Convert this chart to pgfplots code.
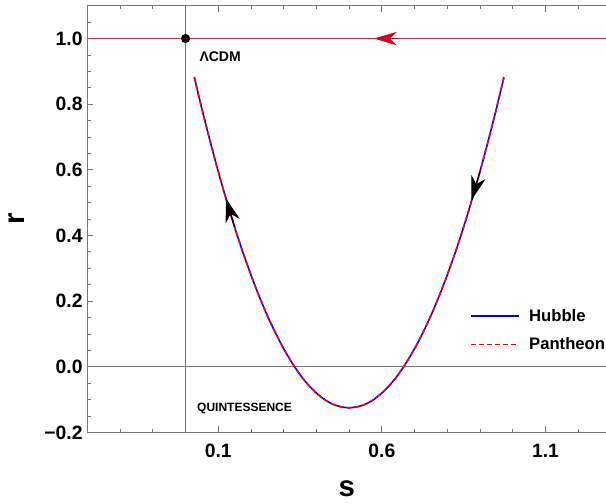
\documentclass[border=0pt]{standalone}
\usepackage{fontspec}
\setmainfont{Liberation Sans}
\usepackage{pgfplots}
\usepackage{pgfplotstable}
\pgfplotsset{compat=1.18}
\usetikzlibrary{arrows.meta}

\definecolor{rline}{RGB}{215,45,75}
\definecolor{rarrow}{RGB}{210,0,40}
\definecolor{framegray}{RGB}{120,120,120}

% statefinder trajectory (both fits coincide)
\pgfplotstableread{
s      rH      rP
0.027  0.882   0.882
0.050  0.786   0.786
0.075  0.688   0.688
0.100  0.595   0.595
0.125  0.508   0.508
0.150  0.426   0.426
0.175  0.350   0.350
0.200  0.280   0.280
0.225  0.215   0.215
0.250  0.156   0.156
0.275  0.103   0.103
0.300  0.055   0.055
0.325  0.013   0.013
0.350  -0.024  -0.024
0.375  -0.055  -0.055
0.400  -0.080  -0.080
0.425  -0.100  -0.100
0.450  -0.114  -0.114
0.475  -0.122  -0.122
0.500  -0.125  -0.125
0.525  -0.122  -0.122
0.550  -0.114  -0.114
0.575  -0.100  -0.100
0.600  -0.080  -0.080
0.625  -0.055  -0.055
0.650  -0.024  -0.024
0.675  0.013   0.013
0.700  0.055   0.055
0.725  0.103   0.103
0.750  0.156   0.156
0.775  0.215   0.215
0.800  0.280   0.280
0.825  0.350   0.350
0.850  0.426   0.426
0.875  0.508   0.508
0.900  0.595   0.595
0.925  0.688   0.688
0.950  0.786   0.786
0.973  0.882   0.882
}\rsdata

\begin{document}
\begin{tikzpicture}
\begin{axis}[
  scale only axis, width=389pt, height=320pt,
  xmin=-0.3, xmax=1.285, ymin=-0.2, ymax=1.1,
  axis y line*=left,
  axis line style={draw=framegray, line width=0.6pt},
  xtick={0.1,0.6,1.1}, xticklabels={0.1,0.6,1.1},
  minor xtick={-0.2,-0.1,0,0.2,0.3,0.4,0.5,0.7,0.8,0.9,1.0,1.2},
  ytick={-0.2,0,0.2,0.4,0.6,0.8,1.0},
  yticklabels={−0.2,0.0,0.2,0.4,0.6,0.8,1.0},
  minor ytick={-0.15,-0.1,-0.05,0.05,0.1,0.15,0.25,0.3,0.35,0.45,0.5,0.55,0.65,0.7,0.75,0.85,0.9,0.95,1.05},
  tick align=inside,
  major tick length=4.5pt, minor tick length=2.5pt,
  tick style={draw=framegray, line width=0.6pt},
  tick label style={font=\bfseries\fontsize{14.5}{16}\selectfont},
  xticklabel style={yshift=-5pt},
  xlabel={s}, ylabel={r},
  label style={font=\bfseries\fontsize{22}{24}\selectfont},
  xlabel style={at={(axis description cs:0.5,-0.1328)}, anchor=center},
  ylabel style={at={(axis description cs:-0.1362,0.5)}, anchor=center},
  legend style={draw=none, fill=none, at={(axis description cs:0.73,0.302)},
                anchor=north west, font=\bfseries\fontsize{12.5}{14}\selectfont,
                row sep=6.8pt},
  legend cell align=left,
  legend image code/.code={\draw[#1] (0pt,0pt) -- (36pt,0pt); \path (41pt,0pt);},
]
\addplot[forget plot, draw=framegray, line width=0.6pt] coordinates {(0,-0.2) (0,1.1)};
\addplot[forget plot, draw=framegray, line width=0.6pt] coordinates {(-0.3,0) (1.285,0)};
\addplot[forget plot, draw=rline, line width=1.1pt] coordinates {(-0.3,1) (1.285,1)};

\addplot[blue, line width=1.2pt, smooth] table[x=s, y=rH] {\rsdata};
\addlegendentry{Hubble}
\addplot[red, line width=1.2pt, dash pattern=on 3.5pt off 2.5pt, smooth] table[x=s, y=rP] {\rsdata};
\addlegendentry{Pantheon}

\addplot[forget plot, rarrow, line width=0.8pt, -{Stealth[length=17pt, width=10pt, inset=5pt]}]
  coordinates {(0.65,1) (0.576,1)};
\addplot[forget plot, black, line width=0.8pt, -{Stealth[length=18pt, width=11pt, inset=5.5pt]}]
  coordinates {(0.150,0.426) (0.123,0.514)};
\addplot[forget plot, black, line width=0.8pt, -{Stealth[length=18pt, width=11pt, inset=5.5pt]}]
  coordinates {(0.900,0.595) (0.874,0.508)};

\addplot[forget plot, only marks, mark=*, mark size=3.2pt, black] coordinates {(0,1)};

\node[anchor=west, inner sep=0pt, font=\bfseries\fontsize{10.5}{12}\selectfont] at (axis cs:0.042,0.946) {ΛCDM};
\node[anchor=west, inner sep=0pt, font=\bfseries\fontsize{9}{10}\selectfont] at (axis cs:0.035,-0.126) {QUINTESSENCE};
\end{axis}
\pgfresetboundingbox
\path (-65.5pt,-53pt) rectangle (389pt,324.3pt);
\end{tikzpicture}
\end{document}
